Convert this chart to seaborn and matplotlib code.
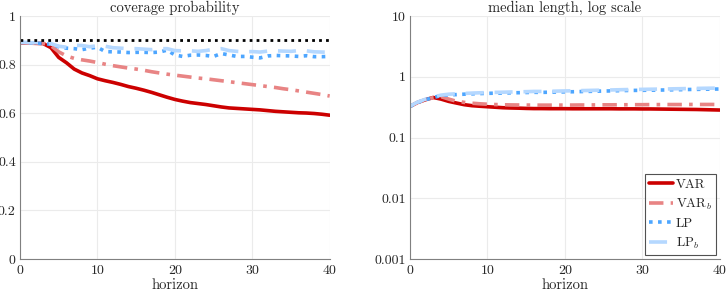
import numpy as np
import pandas as pd
import matplotlib
matplotlib.use("Agg")
import matplotlib.pyplot as plt
import seaborn as sns

# horizons 0..40
horizon = list(range(41))

# coverage probability
cov_var = [0.890, 0.889, 0.888, 0.887, 0.870, 0.830, 0.808, 0.782, 0.766, 0.755,
           0.742, 0.734, 0.727, 0.719, 0.710, 0.703, 0.695, 0.686, 0.676, 0.666,
           0.657, 0.650, 0.644, 0.640, 0.636, 0.631, 0.626, 0.622, 0.620, 0.618,
           0.616, 0.614, 0.611, 0.608, 0.606, 0.604, 0.602, 0.601, 0.599, 0.596, 0.592]
cov_varb = [0.890, 0.889, 0.889, 0.888, 0.878, 0.853, 0.836, 0.826, 0.820, 0.815,
            0.809, 0.802, 0.796, 0.791, 0.786, 0.782, 0.777, 0.771, 0.766, 0.761,
            0.757, 0.753, 0.749, 0.745, 0.742, 0.738, 0.734, 0.730, 0.726, 0.722,
            0.718, 0.714, 0.710, 0.706, 0.701, 0.697, 0.692, 0.687, 0.682, 0.677, 0.671]
cov_lp = [0.892, 0.890, 0.889, 0.887, 0.884, 0.874, 0.868, 0.866, 0.862, 0.868,
          0.872, 0.854, 0.853, 0.852, 0.850, 0.851, 0.851, 0.850, 0.852, 0.860,
          0.840, 0.834, 0.839, 0.840, 0.838, 0.834, 0.846, 0.840, 0.834, 0.834,
          0.831, 0.828, 0.836, 0.838, 0.837, 0.836, 0.834, 0.837, 0.833, 0.833, 0.834]
cov_lpb = [0.893, 0.891, 0.890, 0.889, 0.887, 0.876, 0.872, 0.880, 0.879, 0.874,
           0.878, 0.876, 0.870, 0.868, 0.866, 0.866, 0.864, 0.862, 0.866, 0.866,
           0.858, 0.857, 0.857, 0.855, 0.858, 0.864, 0.866, 0.858, 0.855, 0.853,
           0.854, 0.852, 0.856, 0.857, 0.856, 0.855, 0.858, 0.857, 0.853, 0.852, 0.851]
nominal = 0.9

# median length (log scale)
len_var = [0.326, 0.380, 0.420, 0.457, 0.430, 0.394, 0.370, 0.348, 0.335, 0.328,
           0.322, 0.316, 0.310, 0.307, 0.305, 0.302, 0.300, 0.300, 0.299, 0.299,
           0.299, 0.298, 0.298, 0.298, 0.298, 0.298, 0.298, 0.297, 0.297, 0.297,
           0.296, 0.296, 0.295, 0.294, 0.293, 0.292, 0.291, 0.290, 0.288, 0.286, 0.284]
len_varb = [0.326, 0.380, 0.420, 0.455, 0.472, 0.430, 0.396, 0.380, 0.368, 0.360,
            0.354, 0.350, 0.347, 0.345, 0.344, 0.343, 0.342, 0.342, 0.342, 0.342,
            0.343, 0.343, 0.344, 0.344, 0.345, 0.346, 0.346, 0.347, 0.347, 0.348,
            0.348, 0.349, 0.349, 0.350, 0.350, 0.350, 0.351, 0.351, 0.351, 0.351, 0.350]
len_lp = [0.326, 0.380, 0.420, 0.457, 0.490, 0.505, 0.510, 0.518, 0.525, 0.530,
          0.535, 0.538, 0.540, 0.545, 0.548, 0.552, 0.556, 0.555, 0.558, 0.562,
          0.566, 0.568, 0.572, 0.576, 0.580, 0.583, 0.587, 0.592, 0.596, 0.598,
          0.600, 0.603, 0.605, 0.608, 0.612, 0.615, 0.619, 0.622, 0.625, 0.628, 0.630]
len_lpb = [0.330, 0.385, 0.428, 0.466, 0.500, 0.518, 0.525, 0.533, 0.540, 0.546,
           0.551, 0.555, 0.558, 0.563, 0.566, 0.570, 0.575, 0.575, 0.578, 0.582,
           0.586, 0.589, 0.593, 0.597, 0.601, 0.604, 0.608, 0.613, 0.617, 0.620,
           0.622, 0.625, 0.628, 0.631, 0.635, 0.638, 0.642, 0.645, 0.648, 0.651, 0.654]

labels = ["VAR", "VAR$_b$", "LP", "LP$_b$"]
colors = ["#cc0000", "#e88484", "#4da6ff", "#b5d8ff"]
styles = ["-", (0, (4, 2, 1, 2)), (0, (1, 1.5)), (0, (5, 3))]
widths = [2.6, 2.6, 2.6, 2.6]

sns.set_style("white")
plt.rcParams["font.family"] = ["cmr10", "DejaVu Serif"]
plt.rcParams["mathtext.fontset"] = "cm"
plt.rcParams["axes.formatter.use_mathtext"] = True

fig = plt.figure(figsize=(7.27, 2.93), dpi=100)
ax1 = fig.add_axes([0.0275, 0.116, 0.426, 0.829])
ax2 = fig.add_axes([0.564, 0.116, 0.426, 0.829])

for ax, series in [(ax1, [cov_var, cov_varb, cov_lp, cov_lpb]),
                   (ax2, [len_var, len_varb, len_lp, len_lpb])]:
    for vals, lab, c, ls, lw in zip(series, labels, colors, styles, widths):
        sns.lineplot(x=horizon, y=vals, ax=ax, color=c, linestyle=ls,
                     linewidth=lw, label=lab, legend=False)

sns.lineplot(x=horizon, y=[nominal] * len(horizon), ax=ax1, color="black",
             linestyle=(0, (1, 1.5)), linewidth=2, legend=False)

ax1.set_ylim(0, 1)
ax1.set_yticks([0, 0.2, 0.4, 0.6, 0.8, 1])
ax1.set_yticklabels(["0", "0.2", "0.4", "0.6", "0.8", "1"])
ax1.set_title("coverage probability", fontsize=10.5, pad=3)

ax2.set_yscale("log")
ax2.set_ylim(0.001, 10)
ax2.set_yticks([0.001, 0.01, 0.1, 1, 10])
ax2.set_yticklabels(["0.001", "0.01", "0.1", "1", "10"])
ax2.minorticks_off()
ax2.set_title("median length, log scale", fontsize=10.5, pad=3)

for ax in (ax1, ax2):
    ax.set_xlim(0, 40)
    ax.set_xticks([0, 10, 20, 30, 40])
    ax.set_xticklabels(["0", "10", "20", "30", "40"])
    ax.set_xlabel("horizon", fontsize=10.5, labelpad=1.5)
    ax.grid(True, color="#ebebeb", linewidth=0.8)
    ax.tick_params(direction="in", length=3, labelsize=10, colors="#262626")
    ax.tick_params(axis="x", pad=4)
    ax.tick_params(axis="y", pad=3)
    for s in ["top", "right"]:
        ax.spines[s].set_visible(False)
    for s in ["left", "bottom"]:
        ax.spines[s].set_color("#808080")
        ax.spines[s].set_linewidth(0.8)

leg = ax2.legend(loc="lower right", fontsize=9.5, frameon=True, fancybox=False,
                 handlelength=1.8, handletextpad=0.25, borderpad=0.3,
                 labelspacing=0.45, borderaxespad=0.3)
leg.get_frame().set_edgecolor("#262626")
leg.get_frame().set_linewidth(0.8)

fig.savefig("out.png", dpi=100)
